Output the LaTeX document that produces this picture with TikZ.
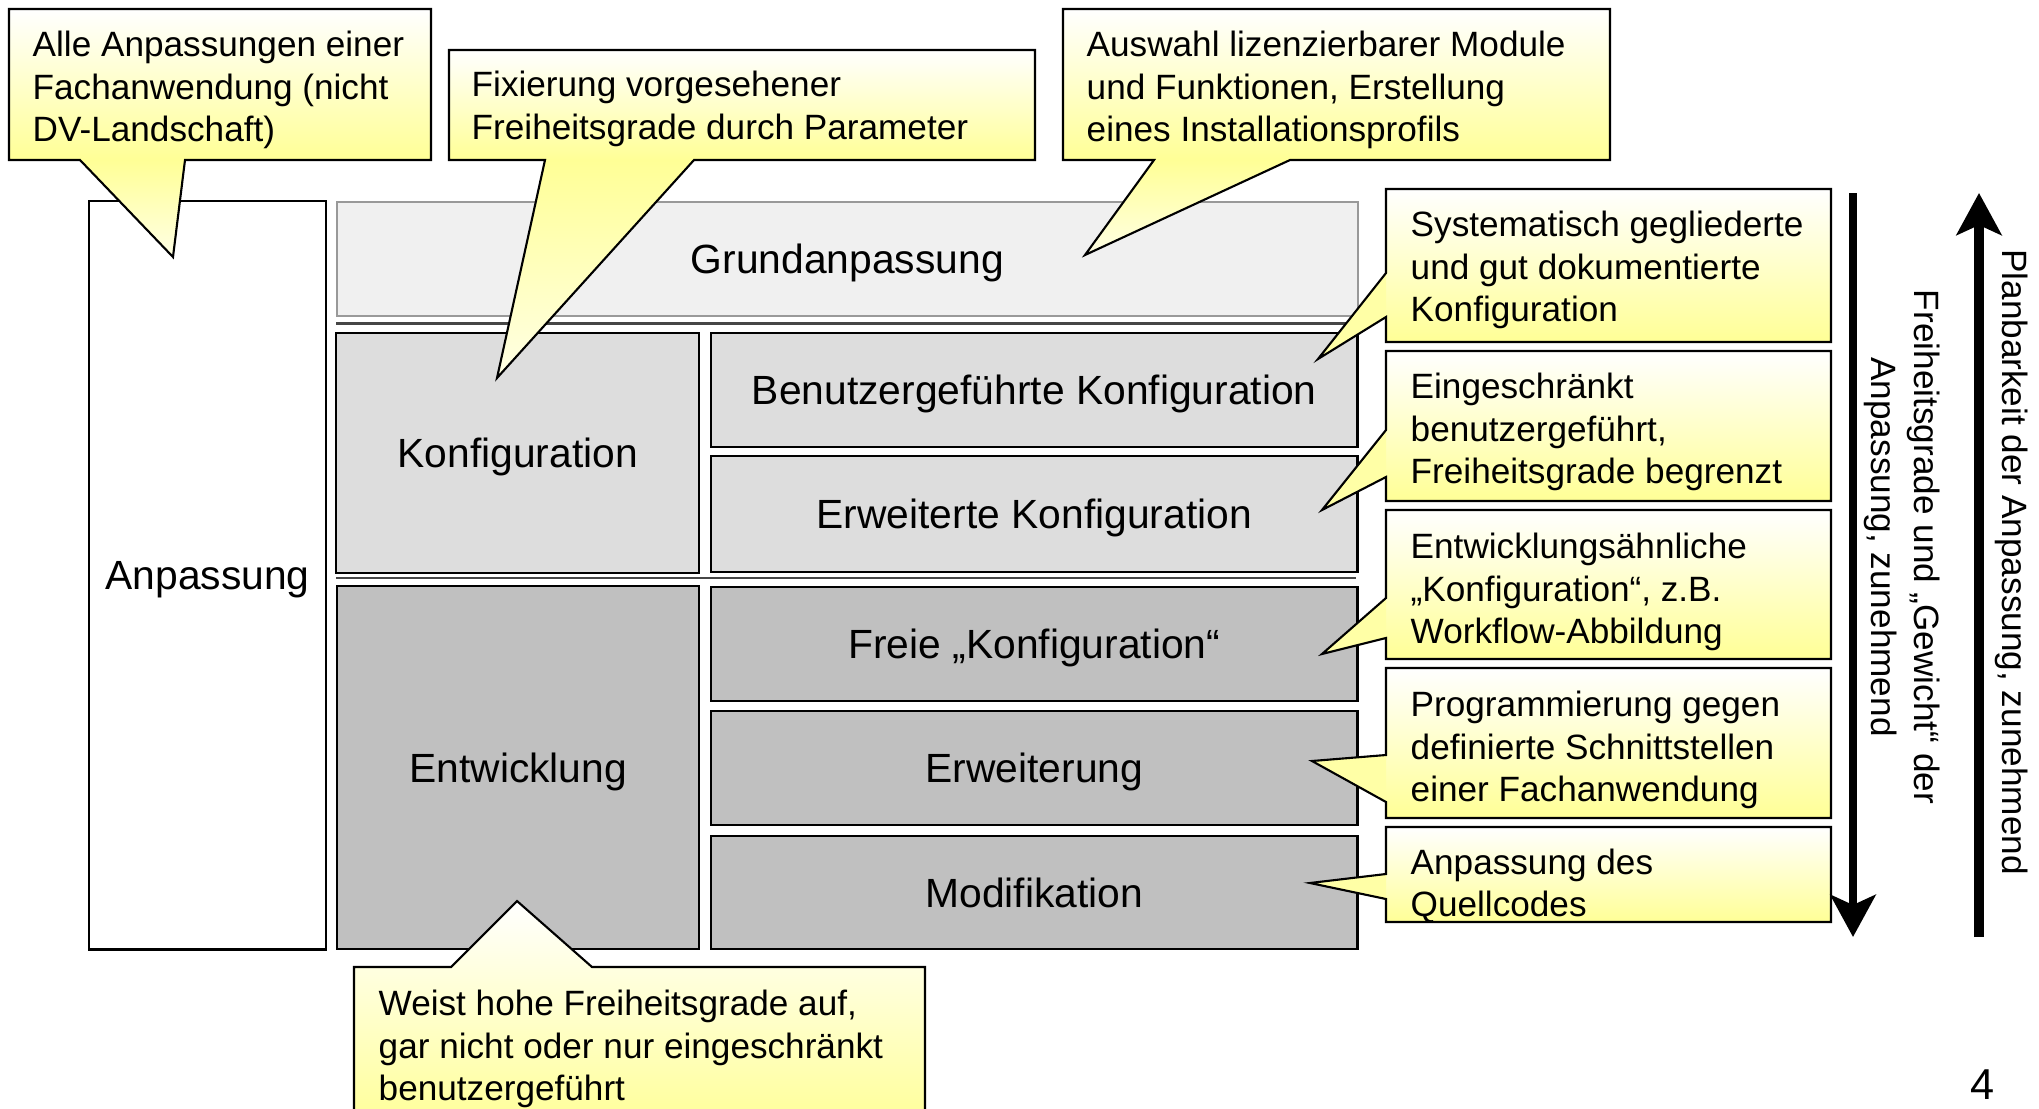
\documentclass[tikz,border=0pt]{standalone}
\usepackage{fontspec}
\setmainfont{Liberation Sans}
\usetikzlibrary{arrows.meta}
\definecolor{cyel}{RGB}{255,255,150}
\definecolor{grundgray}{RGB}{240,240,240}
\definecolor{konfgray}{RGB}{221,221,221}
\definecolor{entwgray}{RGB}{192,192,192}
\definecolor{sepgray}{RGB}{70,70,70}

\begin{document}
\begin{tikzpicture}[x=.01cm,y=-.01cm,
    lvl/.style={draw,line width=.6pt,anchor=north west,inner sep=0pt,text height=8.6pt,text depth=.4pt,font=\fontsize{11.6}{14}\selectfont},
    note/.style={anchor=west,align=left,inner sep=0pt,font=\fontsize{10}{12}\selectfont},
    rim/.style={draw,line width=.6pt,line join=miter},
    sep/.style={sepgray,line width=.8pt},
    boxshade/.style={top color=white,bottom color=cyel},
    tailshade/.style={top color=cyel,bottom color=cyel!25!white},
    sidetail/.style={fill=cyel!85!white},
    bigarrow/.style={line width=2.3pt,-{Stealth[length=.42cm,width=.45cm,inset=.1cm]}}]
    \useasboundingbox (0,0) rectangle (2039,1109);
    \clip (0,0) rectangle (2039,1109);

    \node[lvl,fill=white,minimum width=2.37cm,minimum height=7.48cm] (anpassung) at (88,200) {Anpassung};
    \node[lvl,draw=gray!80,fill=grundgray,minimum width=10.20cm,minimum height=1.14cm] (grund) at (336,201) {Grundanpassung};
    \node[lvl,fill=konfgray,minimum width=3.63cm,minimum height=2.40cm] (konf) at (335,332) {Konfiguration};
    \node[lvl,fill=konfgray,minimum width=6.46cm,minimum height=1.14cm] (benutzer) at (710,332) {Benutzergeführte Konfiguration};
    \node[lvl,fill=konfgray,minimum width=6.46cm,minimum height=1.16cm] (erwkonf) at (710,455) {Erweiterte Konfiguration};
    \node[lvl,fill=entwgray,minimum width=3.62cm,minimum height=3.63cm] (entw) at (336,585) {Entwicklung};
    \node[lvl,fill=entwgray,minimum width=6.46cm,minimum height=1.14cm] (freie) at (710,586) {Freie „Konfiguration“};
    \node[lvl,fill=entwgray,minimum width=6.46cm,minimum height=1.14cm] (erweiterung) at (710,710) {Erweiterung};
    \node[lvl,fill=entwgray,minimum width=6.46cm,minimum height=1.13cm] (modif) at (710,835) {Modifikation};

    \draw[sep] (336,323.5) -- (1356,323.5);
    \draw[sep] (336,578) -- (1356,578);

    % callouts above
    \shade[boxshade] (9,9) rectangle (431,160);
    \shade[tailshade] (80,160) -- (173,257) -- (185,160) -- cycle;
    \draw[rim] (9,9) -- (431,9) -- (431,160) -- (185,160) -- (173,257) -- (80,160) -- (9,160) -- cycle;
    \node[note] (noteA) at (32,90) {Alle Anpassungen einer\\Fachanwendung (nicht\\DV-Landschaft)};

    \shade[boxshade] (449,50) rectangle (1035,160);
    \shade[tailshade] (545,160) -- (497,378) -- (694,160) -- cycle;
    \draw[rim] (449,50) -- (1035,50) -- (1035,160) -- (694,160) -- (497,378) -- (545,160) -- (449,160) -- cycle;
    \node[note] (noteB) at (471,109) {Fixierung vorgesehener\\Freiheitsgrade durch Parameter};

    \shade[boxshade] (1063,9) rectangle (1610,160);
    \shade[tailshade] (1154,160) -- (1085,255) -- (1290,160) -- cycle;
    \draw[rim] (1063,9) -- (1610,9) -- (1610,160) -- (1290,160) -- (1085,255) -- (1154,160) -- (1063,160) -- cycle;
    \node[note] (noteC) at (1086,90) {Auswahl lizenzierbarer Module\\und Funktionen, Erstellung\\eines Installationsprofils};

    % callouts right
    \shade[boxshade] (1386,189) rectangle (1831,342);
    \fill[sidetail] (1386,273) -- (1318,359) -- (1386,317) -- cycle;
    \draw[rim] (1386,189) -- (1831,189) -- (1831,342) -- (1386,342) -- (1386,317) -- (1318,359) -- (1386,273) -- cycle;
    \node[note] (noteSys) at (1410,270) {Systematisch gegliederte\\und gut dokumentierte\\Konfiguration};

    \shade[boxshade] (1386,351) rectangle (1831,501);
    \fill[sidetail] (1386,430) -- (1322,510) -- (1386,477) -- cycle;
    \draw[rim] (1386,351) -- (1831,351) -- (1831,501) -- (1386,501) -- (1386,477) -- (1322,510) -- (1386,430) -- cycle;
    \node[note] (noteEin) at (1410,432) {Eingeschränkt\\benutzergeführt,\\Freiheitsgrade begrenzt};

    \shade[boxshade] (1386,510) rectangle (1831,659);
    \fill[sidetail] (1386,598) -- (1322,654) -- (1386,638) -- cycle;
    \draw[rim] (1386,510) -- (1831,510) -- (1831,659) -- (1386,659) -- (1386,638) -- (1322,654) -- (1386,598) -- cycle;
    \node[note] (noteEnt) at (1410,592) {Entwicklungsähnliche\\„Konfiguration“, z.B.\\Workflow-Abbildung};

    \shade[boxshade] (1386,668) rectangle (1831,818);
    \fill[sidetail] (1386,755) -- (1312,761) -- (1386,802) -- cycle;
    \draw[rim] (1386,668) -- (1831,668) -- (1831,818) -- (1386,818) -- (1386,802) -- (1312,761) -- (1386,755) -- cycle;
    \node[note] (noteProg) at (1410,750) {Programmierung gegen\\definierte Schnittstellen\\einer Fachanwendung};

    \shade[boxshade] (1386,827) rectangle (1831,922);
    \fill[sidetail] (1386,874) -- (1310,883) -- (1386,899) -- cycle;
    \draw[rim] (1386,827) -- (1831,827) -- (1831,922) -- (1386,922) -- (1386,899) -- (1310,883) -- (1386,874) -- cycle;
    \node[note] (noteQuell) at (1410,886) {Anpassung des\\Quellcodes};

    % callout below
    \shade[boxshade,rim] (354,967) -- (451,967) -- (517,901) -- (592,967) -- (925,967) -- (925,1130) -- (354,1130) -- cycle;
    \node[note] (noteD) at (378,1049) {Weist hohe Freiheitsgrade auf,\\gar nicht oder nur eingeschränkt\\benutzergeführt};

    % arrows
    \coordinate (downtop) at (1853,193);
    \coordinate (downend) at (1853,937);
    \coordinate (uptop) at (1979,193);
    \coordinate (upend) at (1979,937);
    \draw[bigarrow] (downtop) -- (downend);
    \draw[bigarrow,line width=2.8pt] (upend) -- (uptop);
    \node[rotate=-90,align=center,font=\fontsize{10}{12}\selectfont] (freiheit) at (1902,547) {Freiheitsgrade und „Gewicht“ der\\Anpassung, zunehmend};
    \node[rotate=-90,font=\fontsize{10}{12}\selectfont] (planbar) at (2012,562) {Planbarkeit der Anpassung, zunehmend};

    \node[inner sep=0pt,font=\fontsize{12.3}{14}\selectfont] (pagenum) at (1983,1085) {4};
\end{tikzpicture}
\end{document}
